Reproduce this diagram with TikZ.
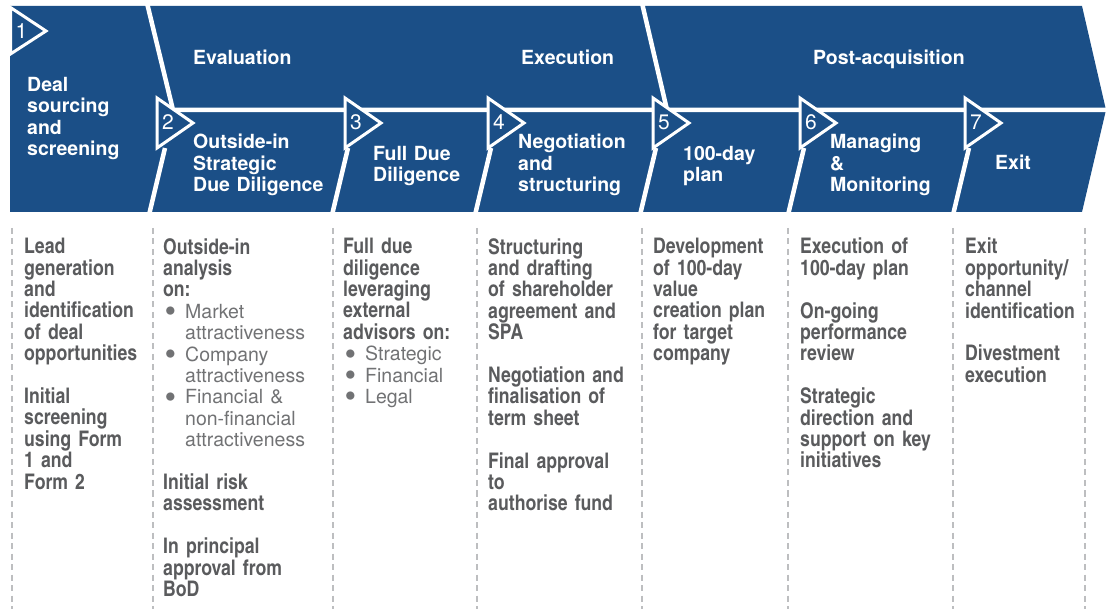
\documentclass[tikz,border=0pt]{standalone}
\usepackage{fontspec}
\setmainfont{TeX Gyre Heros}
\newfontfamily\cnbold{texgyreheroscn-bold.otf}
\newfontfamily\hvlight{texgyreheros-regular.otf}

\definecolor{dealblue}{HTML}{1B4F87}
\definecolor{bodygrey}{HTML}{5A5B5D}
\definecolor{lightgrey}{HTML}{717274}
\definecolor{dashgrey}{HTML}{BDBEC0}

% bullet line and its continuation
\newcommand{\blt}[1]{{\hvlight\fontsize{19.5}{21.4}\selectfont\color{lightgrey}\makebox[22pt][l]{\hspace{1.5pt}\smash{\raisebox{-4.5pt}{\scalebox{1.7}{\textbullet}}}}#1}}
\newcommand{\bltc}[1]{{\hvlight\fontsize{19.5}{21.4}\selectfont\color{lightgrey}\hspace*{22pt}#1}}

\begin{document}
\begin{tikzpicture}[x=1pt,y=-1pt,
	gapline/.style={white,line width=4.5pt},
	tri/.style={fill=dealblue,draw=white,line width=3pt,line join=miter},
	num/.style={text=white,font=\fontsize{21}{21}\selectfont,anchor=west,inner sep=0pt},
	head/.style={text=white,font=\bfseries\fontsize{19.5}{21.4}\selectfont,anchor=north west,inner sep=0pt,text width=200pt,align=left},
	body/.style={text=bodygrey,font=\cnbold\fontsize{21.5}{21.4}\selectfont,anchor=north west,inner sep=0pt,text width=170pt,align=left},
	dashline/.style={dashgrey,line width=2pt,dash pattern=on 6pt off 4.5pt}]
	\useasboundingbox (0,0) rectangle (1109,609);
	
	% Blue band
	\fill[dealblue] (10,6) -- (1082,6) -- (1106,110) -- (1082,212) -- (10,212) -- cycle;
	\draw[gapline] (147,3) -- (173,110) -- (1112,110);
	\draw[gapline] (642,3) -- (667,110);
	\foreach \b in {149,332,475,640,788,953}
		\draw[gapline] (\b,215) -- (\b+16,148);
	
	% Step markers
	\draw[tri] (10.5,7.5) -- (46,31) -- (10.5,54) -- cycle;
	\node[num] (n1) at (15.5,31) {1};
	\foreach \l/\n in {157/2,345/3,488/4,653/5,800/6,965/7} {
		\draw[tri] (\l,98) -- (\l+36,123) -- (\l,148) -- cycle;
		\node[num] (n\n) at (\l+5,122) {\n};
	}
	
	% Phase and step titles
	\node[head] (deal) at (27,77) {Deal\\sourcing\\and\\screening};
	\node[head] (eval) at (193,50) {Evaluation};
	\node[head] (exec) at (521,50) {Execution};
	\node[head] (post) at (813,50) {Post-acquisition};
	\node[head] (odd) at (193,134) {Outside-in\\Strategic\\Due Diligence};
	\node[head] (fdd) at (373,146) {Full Due\\Diligence};
	\node[head] (neg) at (518,134) {Negotiation\\and\\structuring};
	\node[head] (plan) at (683,146) {100-day\\plan};
	\node[head] (mon) at (830,134) {Managing\\\&\\Monitoring};
	\node[head] (exit) at (995,155) {Exit};
	
	% Column dividers
	\foreach \x in {12,153,333,477,642,788,953,1085}
		\draw[dashline] (\x,228) -- (\x,609);
	
	% Activities
	\node[body] (act1) at (24,238) {Lead\\generation\\and\\identification\\of deal\\opportunities\\[21.4pt]Initial\\screening\\using Form\\1 and\\Form 2};
	\node[body] (act2) at (163,238) {Outside-in\\analysis\\on:\\\blt{Market}\\\bltc{attractiveness}\\\blt{Company}\\\bltc{attractiveness}\\\blt{Financial \&}\\\bltc{non-financial}\\\bltc{attractiveness}\\[21.4pt]Initial risk\\assessment\\[21.4pt]In principal\\approval from\\BoD};
	\node[body] (act3) at (343,238) {Full due\\diligence\\leveraging\\external\\advisors on:\\\blt{Strategic}\\\blt{Financial}\\\blt{Legal}};
	\node[body] (act4) at (488,238) {Structuring\\and drafting\\of shareholder\\agreement and\\SPA\\[21.4pt]Negotiation and\\finalisation of\\term sheet\\[21.4pt]Final approval\\to\\authorise fund};
	\node[body] (act5) at (653,238) {Development\\of 100-day\\value\\creation plan\\for target\\company};
	\node[body] (act6) at (800,238) {Execution of\\100-day plan\\[21.4pt]On-going\\performance\\review\\[21.4pt]Strategic\\direction and\\support on key\\initiatives};
	\node[body] (act7) at (965,238) {Exit\\opportunity/\\channel\\identification\\[21.4pt]Divestment\\execution};
\end{tikzpicture}
\end{document}
